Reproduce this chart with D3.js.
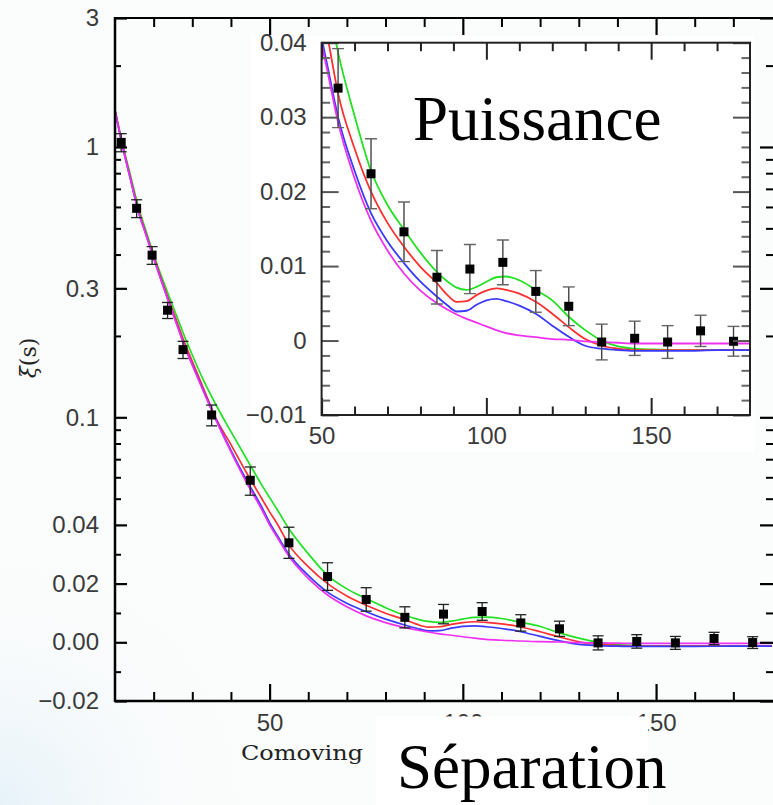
<!DOCTYPE html>
<html><head><meta charset="utf-8">
<script src="https://cdn.jsdelivr.net/npm/d3@7"></script>
<style>html,body{margin:0;padding:0;background:#fbfcfc;} svg{display:block}</style>
</head><body><svg id="c" width="773" height="805"></svg>
<script>
// ---- data ----
const sepGrid = [10,12,14,16,18,20,22,24,26,28,30,33,36,40,44,48,50,52,55,60,65,70,75,80,85,88,91,94,97,100,103,106,110,115,120,125,130,135,140,145,150,160,170,180];
const xiGreen = [1.37,1.02,0.785,0.605,0.49,0.40,0.333,0.280,0.236,0.199,0.170,0.136,0.112,0.0885,0.0704,0.0561,0.0505,0.0455,0.0387,0.0302,0.0228,0.0182,0.0149,0.0118,0.0092,0.0080,0.0071,0.0068,0.0072,0.0079,0.0085,0.0086,0.0081,0.0068,0.0054,0.0032,0.0014,0.0000,-0.0008,-0.0011,-0.0012,-0.0013,-0.0013,-0.0013];
const xiRed = [1.37,1.01,0.77,0.59,0.48,0.393,0.325,0.270,0.226,0.189,0.161,0.127,0.100,0.0793,0.0625,0.0500,0.0447,0.0403,0.0332,0.0258,0.0200,0.0158,0.0126,0.0099,0.0077,0.0062,0.0052,0.0053,0.0061,0.0067,0.0070,0.0068,0.0063,0.0052,0.0036,0.0018,0.0002,-0.0007,-0.0011,-0.0013,-0.0013,-0.0013,-0.0013,-0.0013];
const xiBlue = [1.36,1.0,0.76,0.58,0.475,0.388,0.320,0.265,0.221,0.184,0.157,0.1245,0.0994,0.0755,0.0587,0.0465,0.0408,0.0364,0.0300,0.0228,0.0171,0.0133,0.0104,0.0079,0.0059,0.0048,0.0039,0.0040,0.0048,0.0054,0.0056,0.0053,0.0047,0.0036,0.0020,0.0005,-0.0007,-0.0011,-0.0013,-0.0014,-0.0014,-0.0014,-0.0013,-0.0013];
const xiMagenta = [1.36,1.0,0.76,0.58,0.474,0.387,0.319,0.264,0.220,0.183,0.156,0.1235,0.0985,0.0745,0.0575,0.0455,0.0400,0.0357,0.0293,0.0218,0.0161,0.0121,0.0090,0.0067,0.0050,0.0042,0.0035,0.0029,0.0024,0.0019,0.0014,0.0010,0.0007,0.00045,0.0002,0.0001,-0.0001,-0.0002,-0.0003,-0.0004,-0.0004,-0.0004,-0.0004,-0.0004];

const dataSep = [11.6,15.6,19.6,23.6,27.6,35,45,55,65,75,85,95,105,115,125,135,145,155,165,175];
const dataXi  = [1.04,0.593,0.398,0.249,0.178,0.102,0.0585,0.0339,0.0224,0.0146,0.0085,0.0096,0.0105,0.0066,0.0046,-0.0002,0.0003,-0.0002,0.0013,-0.0001];
const dataErr = [0.08,0.045,0.03,0.017,0.013,0.009,0.007,0.0053,0.0047,0.0040,0.0036,0.0033,0.0030,0.0028,0.0026,0.0024,0.0023,0.0022,0.0021,0.0020];

const mainYMajor = [3,1,0.3,0.1,0.04,0.02,0,-0.02];
const mainYLabels = ["3","1","0.3","0.1","0.04","0.02","0.00","\u22120.02"];
const mainYMinor = [2,0.9,0.8,0.7,0.6,0.5,0.4,0.2,0.09,0.08,0.07,0.06,0.05,0.03,0.01,-0.01];
const mainXMajor = [50,100,150];
const mainXLabels = ["50","100","150"];
const mainXMinor = [20,30,40,60,70,80,90,110,120,130,140,160,170];

const insetXMajor = [50,100,150];
const insetXLabels = ["50","100","150"];
const insetXMinor = [60,70,80,90,110,120,130,140,160,170];
const insetYMajor = [0.04,0.03,0.02,0.01,0,-0.01];
const insetYLabels = ["0.04","0.03","0.02","0.01","0","\u22120.01"];
const insetYMinor = [-0.008,-0.006,-0.004,-0.002,0.002,0.004,0.006,0.008,0.012,0.014,0.016,0.018,0.022,0.024,0.026,0.028,0.032,0.034,0.036,0.038];

const series = [
  {name:"green", values: xiGreen, color:"#22e022"},
  {name:"red", values: xiRed, color:"#ff3030"},
  {name:"blue", values: xiBlue, color:"#3a3aff"},
  {name:"magenta", values: xiMagenta, color:"#f030f0"}
];

// ---- drawing ----
const svg = d3.select("#c");
const defs = svg.append("defs");
const rg = defs.append("radialGradient").attr("id","bg").attr("cx",0).attr("cy",805).attr("r",260).attr("gradientUnits","userSpaceOnUse");
rg.append("stop").attr("offset","0").attr("stop-color","#e6f2f9");
rg.append("stop").attr("offset","1").attr("stop-color","#fbfcfc").attr("stop-opacity",0);
svg.append("rect").attr("width",773).attr("height",805).attr("fill","#fbfcfc");
svg.append("rect").attr("width",773).attr("height",805).attr("fill","url(#bg)");

const font = "'Liberation Sans', Arial, sans-serif";
const tickTextColor = "#3a3a3a";
const labelSize = 24;

// main scales
const x = d3.scaleLinear().domain([10,180]).range([115,772]);
const T = v => v >= 0.04 ? Math.log10(v) : Math.log10(0.04) + (v - 0.04) / (0.04 * Math.LN10);
const yLin = d3.scaleLinear().domain([T(-0.02), T(3)]).range([701,18]);
function hybridScale(){
  const s = v => yLin(T(v));
  s.copy = hybridScale;
  s.range = () => yLin.range();
  s.domain = () => [-0.02, 3];
  return s;
}
const y = hybridScale();

defs.append("clipPath").attr("id","mainclip").append("rect").attr("x",115).attr("y",18).attr("width",658).attr("height",683);

const main = svg.append("g");
const mc = main.append("g").attr("clip-path","url(#mainclip)");
const lineMain = d3.line().x(d => x(d[0])).y(d => y(d[1])).curve(d3.curveMonotoneX);
series.forEach(s => {
  mc.append("path").attr("d", lineMain(d3.zip(sepGrid, s.values)))
    .attr("fill","none").attr("stroke", s.color).attr("stroke-width",1.7);
});
// error bars + points
const pts = d3.zip(dataSep, dataXi, dataErr);
const eb = mc.append("g").attr("stroke","#222").attr("stroke-width",1.3);
pts.forEach(([sx, v, e]) => {
  const px = x(sx), y1 = y(v + e), y0 = y(v - e);
  eb.append("line").attr("x1",px).attr("x2",px).attr("y1",y1).attr("y2",y0);
  eb.append("line").attr("x1",px-5.5).attr("x2",px+5.5).attr("y1",y1).attr("y2",y1);
  eb.append("line").attr("x1",px-5.5).attr("x2",px+5.5).attr("y1",y0).attr("y2",y0);
});
mc.append("g").selectAll("rect").data(pts).join("rect")
  .attr("x", d => x(d[0]) - 4.5).attr("y", d => y(d[1]) - 4.5)
  .attr("width",9).attr("height",9).attr("fill","#000");

// main axes
function styleAxis(g, w){
  g.select(".domain").remove();
  g.selectAll(".tick line").attr("stroke","#000").attr("stroke-width", w);
  g.selectAll(".tick text").attr("fill", tickTextColor).attr("font-family", font).attr("font-size", labelSize);
}
const gB = svg.append("g").attr("transform","translate(0,701)")
  .call(d3.axisBottom(x).tickValues(mainXMajor).tickSize(-17).tickPadding(13).tickFormat((d,i)=>mainXLabels[i]));
styleAxis(gB, 2.2);
const gBm = svg.append("g").attr("transform","translate(0,701)")
  .call(d3.axisBottom(x).tickValues(mainXMinor).tickSize(-9).tickFormat(""));
styleAxis(gBm, 2);
const gT = svg.append("g").attr("transform","translate(0,18)")
  .call(d3.axisTop(x).tickValues(mainXMajor).tickSize(-17).tickFormat(""));
styleAxis(gT, 2.2);
const gTm = svg.append("g").attr("transform","translate(0,18)")
  .call(d3.axisTop(x).tickValues(mainXMinor).tickSize(-9).tickFormat(""));
styleAxis(gTm, 2);
const gL = svg.append("g").attr("transform","translate(115,0)")
  .call(d3.axisLeft(y).tickValues(mainYMajor).tickSize(-12).tickPadding(16).tickFormat((d,i)=>mainYLabels[i]));
styleAxis(gL, 2.2);
const gLm = svg.append("g").attr("transform","translate(115,0)")
  .call(d3.axisLeft(y).tickValues(mainYMinor).tickSize(-6).tickFormat(""));
styleAxis(gLm, 2);
const gR = svg.append("g").attr("transform","translate(773,0)")
  .call(d3.axisRight(y).tickValues(mainYMajor).tickSize(-13).tickFormat(""));
styleAxis(gR, 2.2);
const gRm = svg.append("g").attr("transform","translate(773,0)")
  .call(d3.axisRight(y).tickValues(mainYMinor).tickSize(-7).tickFormat(""));
styleAxis(gRm, 2);
// frame lines
svg.append("line").attr("x1",114).attr("x2",773).attr("y1",18).attr("y2",18).attr("stroke","#000").attr("stroke-width",2.2);
svg.append("line").attr("x1",114).attr("x2",773).attr("y1",701).attr("y2",701).attr("stroke","#000").attr("stroke-width",2.5);
svg.append("line").attr("x1",115).attr("x2",115).attr("y1",17).attr("y2",702).attr("stroke","#000").attr("stroke-width",2.5);

// y label
svg.append("text").attr("transform","translate(36,358) rotate(-90)")
  .attr("text-anchor","middle").attr("font-family","'DejaVu Serif', serif").attr("font-size",22).attr("fill","#222")
  .html('<tspan font-style="italic">\u03BE</tspan>(s)');

// ---- inset ----
const xi = d3.scaleLinear().domain([50,180]).range([321.6,750]);
const yi = d3.scaleLinear().domain([-0.01,0.04]).range([415,42.7]);
svg.append("rect").attr("x",250).attr("y",36).attr("width",504).attr("height",416).attr("fill","#fff");
defs.append("clipPath").attr("id","insclip").append("rect").attr("x",321.6).attr("y",42.7).attr("width",428.4).attr("height",372.3);
const ins = svg.append("g");
const ic = ins.append("g").attr("clip-path","url(#insclip)");
const lineIns = d3.line().x(d => xi(d[0])).y(d => yi(d[1])).curve(d3.curveMonotoneX);
series.forEach(s => {
  ic.append("path").attr("d", lineIns(d3.zip(sepGrid, s.values).filter(d => d[0] >= 44)))
    .attr("fill","none").attr("stroke", s.color).attr("stroke-width",1.8);
});
const ptsI = pts.filter(d => d[0] >= 50);
const ebi = ic.append("g").attr("stroke","#444").attr("stroke-width",1.4);
ptsI.forEach(([sx, v, e]) => {
  const px = xi(sx), y1 = yi(v + e), y0 = yi(v - e);
  ebi.append("line").attr("x1",px).attr("x2",px).attr("y1",y1).attr("y2",y0);
  ebi.append("line").attr("x1",px-6).attr("x2",px+6).attr("y1",y1).attr("y2",y1).attr("stroke","#666");
  ebi.append("line").attr("x1",px-6).attr("x2",px+6).attr("y1",y0).attr("y2",y0).attr("stroke","#666");
});
ic.append("g").selectAll("rect").data(ptsI).join("rect")
  .attr("x", d => xi(d[0]) - 4.5).attr("y", d => yi(d[1]) - 4.5)
  .attr("width",9).attr("height",9).attr("fill","#000");

function styleIns(g, w, c){
  g.select(".domain").remove();
  g.selectAll(".tick line").attr("stroke", c).attr("stroke-width", w);
  g.selectAll(".tick text").attr("fill", tickTextColor).attr("font-family", font).attr("font-size", labelSize);
}
const iB = svg.append("g").attr("transform","translate(0,415)")
  .call(d3.axisBottom(xi).tickValues(insetXMajor).tickSize(-17).tickPadding(12).tickFormat((d,i)=>insetXLabels[i]));
styleIns(iB, 2, "#222");
const iBm = svg.append("g").attr("transform","translate(0,415)")
  .call(d3.axisBottom(xi).tickValues(insetXMinor).tickSize(-8.5).tickFormat(""));
styleIns(iBm, 2, "#222");
const iT = svg.append("g").attr("transform","translate(0,42.7)")
  .call(d3.axisTop(xi).tickValues(insetXMajor).tickSize(-17).tickFormat(""));
styleIns(iT, 2, "#222");
const iTm = svg.append("g").attr("transform","translate(0,42.7)")
  .call(d3.axisTop(xi).tickValues(insetXMinor).tickSize(-8.5).tickFormat(""));
styleIns(iTm, 2, "#222");
const iL = svg.append("g").attr("transform","translate(321.6,0)")
  .call(d3.axisLeft(yi).tickValues(insetYMajor).tickSize(-17).tickPadding(15).tickFormat((d,i)=>insetYLabels[i]));
styleIns(iL, 2, "#555");
const iLm = svg.append("g").attr("transform","translate(321.6,0)")
  .call(d3.axisLeft(yi).tickValues(insetYMinor).tickSize(-8.5).tickFormat(""));
styleIns(iLm, 2, "#666");
const iR = svg.append("g").attr("transform","translate(750,0)")
  .call(d3.axisRight(yi).tickValues(insetYMajor).tickSize(-17).tickFormat(""));
styleIns(iR, 2, "#555");
const iRm = svg.append("g").attr("transform","translate(750,0)")
  .call(d3.axisRight(yi).tickValues(insetYMinor).tickSize(-8.5).tickFormat(""));
styleIns(iRm, 2, "#666");
svg.append("rect").attr("x",321.6).attr("y",42.7).attr("width",428.4).attr("height",372.3)
  .attr("fill","none").attr("stroke","#222").attr("stroke-width",2);

// Puissance
svg.append("text").attr("x",413).attr("y",140).attr("font-family","'Liberation Serif','Times New Roman',serif")
  .attr("font-size",63).attr("fill","#000").text("Puissance");

// x axis title (covered partly)
svg.append("text").attr("x",241).attr("y",760).attr("font-family","'DejaVu Serif', serif")
  .attr("font-size",21).attr("fill","#222").attr("textLength",122).attr("lengthAdjust","spacingAndGlyphs").text("Comoving");
svg.append("rect").attr("x",376).attr("y",716.5).attr("width",272).attr("height",89).attr("fill","#fff");
svg.append("text").attr("x",397).attr("y",788).attr("font-family","'Liberation Serif','Times New Roman',serif")
  .attr("font-size",63).attr("fill","#000").text("S\u00e9paration");
</script>
</body></html>
